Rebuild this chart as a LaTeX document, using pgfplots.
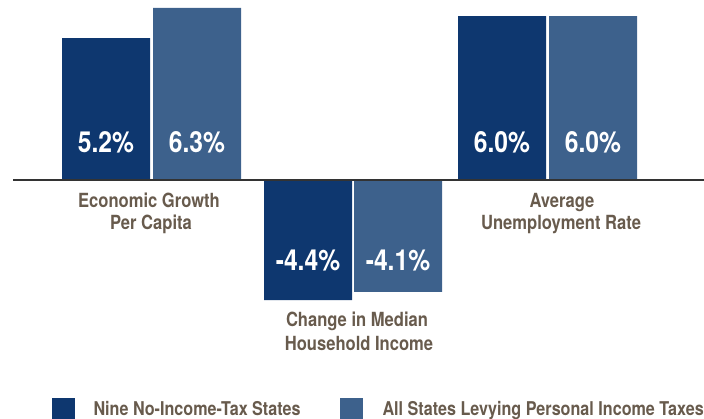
\documentclass[border=0pt]{standalone}
\usepackage{fontspec}
\setmainfont{TeX Gyre Heros}[FakeStretch=0.85]
\usepackage{pgfplots}
\pgfplotsset{compat=1.18}

\definecolor{navy}{HTML}{0E376F}
\definecolor{steel}{HTML}{3D618C}
\definecolor{txt}{HTML}{685B4D}

\tikzset{
    valnode/.style={white, font=\bfseries\fontsize{29}{29}\selectfont},
    catnode/.style={txt, anchor=base, font=\bfseries\fontsize{19.5}{19.5}\selectfont},
    legnode/.style={txt, anchor=base west, font=\bfseries\fontsize{19}{19}\selectfont},
}

\begin{document}
\begin{tikzpicture}
\begin{axis}[
    scale only axis,
    width=704pt, height=419pt,
    xmin=0, xmax=704,
    ymin=-8.755, ymax=6.593,
    hide axis, clip=false,
]
% x positions are bar centres (px), y values in percent
\addplot[ybar, bar width=88, bar shift=0pt, fill=navy, draw=none]
    coordinates {(106,5.2) (308,-4.4) (502,6.0)};
\addplot[ybar, bar width=88, bar shift=0pt, fill=steel, draw=none]
    coordinates {(197,6.3) (398,-4.1) (593,6.0)};
% zero line
\addplot[black!80, line width=1.3pt, no marks] coordinates {(13,0) (704,0)};

\node[valnode] at (axis cs:106,1.37) {5.2\%};
\node[valnode] at (axis cs:197,1.37) {6.3\%};
\node[valnode] at (axis cs:308,-2.96) {-4.4\%};
\node[valnode] at (axis cs:398,-2.96) {-4.1\%};
\node[valnode] at (axis cs:502,1.37) {6.0\%};
\node[valnode] at (axis cs:593,1.37) {6.0\%};

\node[catnode] at (axis cs:149,-1.0) {Economic Growth};
\node[catnode] at (axis cs:151,-1.83) {Per Capita};
\node[catnode] at (axis cs:357,-5.37) {Change in Median};
\node[catnode] at (axis cs:359,-6.23) {Household Income};
\node[catnode] at (axis cs:562,-1.0) {Average};
\node[catnode] at (axis cs:561,-1.83) {Unemployment Rate};

% legend
\fill[navy] (axis cs:52,-7.985) rectangle (axis cs:75,-8.85);
\node[legnode] at (axis cs:90,-8.61) {Nine No-Income-Tax States};
\fill[steel] (axis cs:340,-7.985) rectangle (axis cs:363,-8.85);
\node[legnode] at (axis cs:379,-8.61) {All States Levying Personal Income Taxes};
\end{axis}
\pgfresetboundingbox
\path (current axis.south west) rectangle (current axis.north east);
\end{tikzpicture}
\end{document}
